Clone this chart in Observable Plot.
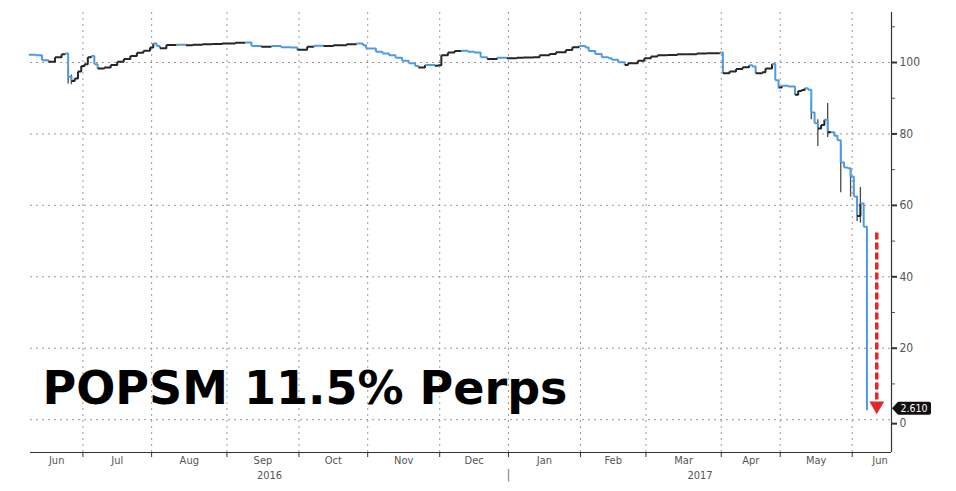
<!DOCTYPE html>
<html><head><meta charset="utf-8">
<script src="https://cdn.jsdelivr.net/npm/d3@7"></script>
<script src="https://cdn.jsdelivr.net/npm/@observablehq/plot@0.6"></script>
<style>
html,body{margin:0;padding:0;background:#fff;}
#chart{width:956px;height:491px;position:relative;}
</style></head><body><div id="chart"></div>
<script>
// ---------- data ----------
const titleText = "POPSM 11.5% Perps";
const holidays = ["2016-12-26","2017-04-14","2017-04-17","2017-05-01"];
const viewStart = "2016-06-08";
const viewEnd = "2017-06-19";

const dates = [
"2016-06-08","2016-06-10","2016-06-14","2016-06-16","2016-06-20","2016-06-22","2016-06-23","2016-06-24","2016-06-27","2016-06-28","2016-06-29","2016-06-30",
"2016-07-01","2016-07-04","2016-07-05","2016-07-06","2016-07-07","2016-07-11","2016-07-13","2016-07-15","2016-07-19","2016-07-21","2016-07-25","2016-07-27","2016-07-29",
"2016-08-01","2016-08-02","2016-08-03","2016-08-05","2016-08-10","2016-08-15","2016-08-17","2016-08-22","2016-08-25","2016-08-30",
"2016-09-05","2016-09-08","2016-09-12","2016-09-15","2016-09-20","2016-09-23","2016-09-28","2016-09-30",
"2016-10-05","2016-10-07","2016-10-12","2016-10-17","2016-10-21","2016-10-26","2016-10-28","2016-10-31",
"2016-11-03","2016-11-07","2016-11-09","2016-11-11","2016-11-15","2016-11-17","2016-11-21","2016-11-22","2016-11-24","2016-11-29","2016-11-30",
"2016-12-01","2016-12-05","2016-12-07","2016-12-09","2016-12-13","2016-12-15","2016-12-19","2016-12-21","2016-12-27","2016-12-30",
"2017-01-04","2017-01-06","2017-01-11","2017-01-13","2017-01-18","2017-01-20","2017-01-25","2017-01-27","2017-01-31",
"2017-02-02","2017-02-03","2017-02-07","2017-02-09","2017-02-13","2017-02-14","2017-02-16","2017-02-20","2017-02-21","2017-02-24","2017-02-28",
"2017-03-02","2017-03-06","2017-03-09","2017-03-14","2017-03-17","2017-03-22","2017-03-27","2017-03-31",
"2017-04-03","2017-04-05","2017-04-07","2017-04-11","2017-04-13","2017-04-18","2017-04-19","2017-04-21","2017-04-24","2017-04-26","2017-04-27","2017-04-28",
"2017-05-02","2017-05-04","2017-05-08","2017-05-09","2017-05-10","2017-05-11","2017-05-12","2017-05-15","2017-05-16","2017-05-17","2017-05-18","2017-05-19",
"2017-05-22","2017-05-23","2017-05-24","2017-05-25","2017-05-26","2017-05-29","2017-05-30","2017-05-31",
"2017-06-01","2017-06-02","2017-06-05","2017-06-06","2017-06-07"
];
const prices = [
102.2,102.0,100.6,100.2,101.5,102.3,102.5,96.0,94.8,95.5,97.5,99.0,
99.5,101.5,101.8,99.5,98.3,98.6,99.3,100.2,101.0,101.8,102.7,103.3,104.2,
105.3,104.6,104.0,104.9,105.0,104.8,105.0,105.1,105.2,105.3,
105.5,105.6,104.6,104.4,104.6,104.3,104.2,103.6,
104.4,104.7,104.6,104.8,105.1,105.3,104.8,103.9,
103.0,102.5,102.0,101.3,100.5,99.8,99.0,98.6,99.3,99.1,99.2,
102.0,102.8,103.2,103.3,103.0,102.8,101.5,101.0,101.3,101.2,
101.3,101.4,101.5,102.0,102.4,102.9,103.5,104.3,104.6,
104.2,103.2,102.4,101.5,101.2,100.8,100.1,99.3,99.8,100.5,101.2,
101.7,102.0,102.1,102.3,102.3,102.5,102.6,102.8,
97.0,97.5,98.2,98.7,99.2,98.9,97.0,97.3,98.3,99.6,95.0,93.0,
93.5,93.3,91.0,92.0,92.3,92.8,92.4,86.0,83.0,81.5,82.5,84.0,
80.5,80.5,79.5,78.2,72.0,70.6,70.4,68.0,
62.5,57.0,60.5,54.0,2.61
];

// intraday ranges (wicks) on the most volatile days
const wickDates = ["2016-06-24","2016-06-27","2017-05-15","2017-05-17","2017-05-22","2017-05-26","2017-05-31","2017-06-02","2017-06-05"];
const wickLows  = [94.0, 93.8, 84.0, 76.5, 79.0, 63.5, 62.3, 55.5, 55.0];
const wickHighs = [97.8, 96.5, 89.0, 84.0, 88.5, 77.0, 70.0, 62.5, 65.0];

const monthStarts = ["2016-06-01","2016-07-01","2016-08-01","2016-09-01","2016-10-01","2016-11-01","2016-12-01","2017-01-01","2017-02-01","2017-03-01","2017-04-01","2017-05-01","2017-06-01","2017-07-01"];
const monthLabels = ["Jun","Jul","Aug","Sep","Oct","Nov","Dec","Jan","Feb","Mar","Apr","May","Jun"];
const yearStarts = ["2016-01-01","2017-01-01","2018-01-01"];
const yearLabels = ["2016","2017"];

const yTicks = [0,20,40,60,80,100];
const yMinorTicks = [10,30,50,70,90,110];
const yDomain = [-9.2, 114];

const arrowDate = "2017-06-12";
const arrowFrom = 52.4;
const arrowTo = 5.6;
const arrowTip = 3.9;

// ---------- trading-day x positions ----------
const hol = new Set(holidays.map(s => +new Date(s)));
const tradingDay = d3.utcDay.filter(d => { const w = d.getUTCDay(); return w !== 0 && w !== 6 && !hol.has(+d); });
const origin = new Date("2016-06-01");
const idx = s => tradingDay.range(origin, new Date(s)).length;

const xDomain = [idx(viewStart) + 0.5, idx(viewEnd) - 0.5];
const clampX = v => Math.max(xDomain[0], Math.min(xDomain[1], v));

const pts = dates.map((d, i) => ({x: idx(d), y: prices[i]}));
const segs = pts.slice(1).map((p, i) => ({x1: pts[i].x, y1: pts[i].y, x2: p.x, y2: p.y, up: p.y >= pts[i].y}));
const wicks = wickDates.map((d, i) => ({x: idx(d), lo: wickLows[i], hi: wickHighs[i]}));

const boundaries = monthStarts.map(s => idx(s) - 0.5);
const gridX = boundaries.filter(b => b > xDomain[0] && b < xDomain[1]);
const monthText = monthLabels.map((m, i) => {
  const a = Math.max(xDomain[0], boundaries[i]);
  const b = boundaries[i + 1] > xDomain[1] ? (xDomain[1] + boundaries[i + 1]) / 2 : boundaries[i + 1];
  return {x: (a + b) / 2, text: m};
});
const yb = yearStarts.map(s => idx(s) - 0.5);
const yearText = yearLabels.map((t, i) => ({x: (clampX(yb[i]) + clampX(yb[i + 1])) / 2, text: t}));
const yearSep = yb.filter(b => b > xDomain[0] && b < xDomain[1]);

const W = 956, H = 491, mL = 30, mR = 65, mT = 12, mB = 39;
const upColor = "#262626", downColor = "#4f9be3";
const labelFont = "'DejaVu Sans Condensed', 'Liberation Sans', sans-serif";

const plot = Plot.plot({
  width: W, height: H,
  marginLeft: mL, marginRight: mR, marginTop: mT, marginBottom: mB,
  style: {fontFamily: labelFont, fontSize: "11px", color: "#444", background: "#fff", overflow: "visible"},
  x: {type: "linear", domain: xDomain, axis: null},
  y: {domain: yDomain, axis: null},
  marks: [
    Plot.ruleY(yTicks, {stroke: "#9a9a9a", strokeDasharray: "2,4", strokeWidth: 1}),
    Plot.ruleX(gridX, {stroke: "#9a9a9a", strokeDasharray: "2,4", strokeWidth: 1}),
    Plot.ruleX(wicks, {x: "x", y1: "lo", y2: "hi", stroke: "#4a4a4a", strokeWidth: 1.3}),
    Plot.link(segs, {x1: "x1", y1: "y1", x2: "x2", y2: "y2", curve: "step-after",
      stroke: d => d.up ? upColor : downColor, strokeWidth: 2}),
    Plot.ruleX([xDomain[1]], {stroke: "#333", strokeWidth: 1.2}),
    Plot.ruleY([yDomain[0]], {stroke: "#333", strokeWidth: 1.2}),
    Plot.axisY(yTicks.filter(v => v > 0), {anchor: "right", tickSize: 5, tickPadding: 3, fontSize: 12, color: "#333", fill: "#555", strokeWidth: 2}),
    Plot.axisY(yTicks.filter(v => v === 0), {anchor: "right", tickSize: 5, tickPadding: 3, fontSize: 12, color: "#333", fill: "#555", strokeWidth: 2, dy: 4}),
    Plot.axisY(yMinorTicks, {anchor: "right", tickSize: 3, tickFormat: () => "", color: "#555"}),
    Plot.axisX(gridX, {anchor: "bottom", tickSize: 5, tickFormat: () => "", color: "#333"}),
    Plot.text(monthText, {x: "x", text: "text", frameAnchor: "bottom", dy: 11, fill: "#555", fontSize: 11}),
    Plot.text(yearText, {x: "x", text: "text", frameAnchor: "bottom", dy: 26, fill: "#555", fontSize: 11}),
    Plot.text(yearSep, {x: d => d, text: () => "|", frameAnchor: "bottom", dy: 26, fill: "#777", fontSize: 13}),
    Plot.text([titleText], {frameAnchor: "bottom-left", dx: 12, dy: -49, lineAnchor: "bottom", textAnchor: "start",
      fontSize: 46, fontWeight: "bold", fontFamily: "'DejaVu Sans', Verdana, sans-serif", fill: "#000"}),
    Plot.link([{x: idx(arrowDate), a: arrowFrom, b: arrowTo}], {x1: "x", x2: "x", y1: "a", y2: "b",
      stroke: "#e3262b", strokeWidth: 3.5, strokeDasharray: "7,3"}),
    Plot.dot([{x: idx(arrowDate), y: arrowTip}], {x: "x", y: "y", symbol: "triangle", r: 5.5, fill: "#e3262b", stroke: "none", rotate: 180})
  ]
});

// last-value tag on the right axis
const lastValue = prices[prices.length - 1];
const yy = plot.scale("y").apply(lastValue) - 1.5;
const x0 = W - mR + 1;
const g = d3.select(plot).append("g");
g.append("path")
  .attr("d", `M${x0},${yy} L${x0 + 6},${yy - 6.5} H${x0 + 37} Q${x0 + 39},${yy - 6.5} ${x0 + 39},${yy - 4.5} V${yy + 4.5} Q${x0 + 39},${yy + 6.5} ${x0 + 37},${yy + 6.5} H${x0 + 6} Z`)
  .attr("fill", "#111");
g.append("text")
  .attr("x", x0 + 22).attr("y", yy).attr("dy", "0.35em")
  .attr("text-anchor", "middle").attr("fill", "#fff")
  .attr("font-size", 10.5).attr("font-family", labelFont)
  .text(d3.format(".3f")(lastValue));

document.getElementById("chart").appendChild(plot);
</script>
</body></html>
